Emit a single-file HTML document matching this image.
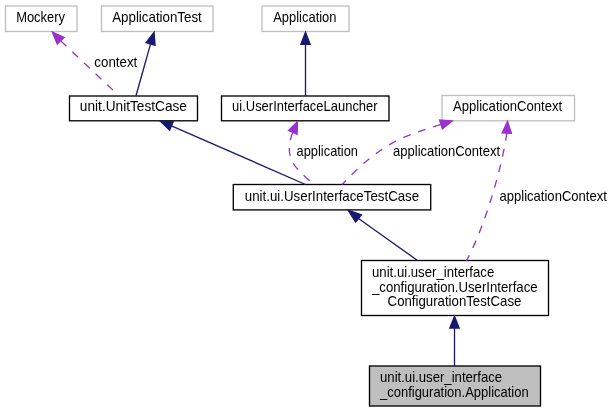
<!DOCTYPE html>
<html><head><meta charset="utf-8">
<style>
html,body{margin:0;padding:0;background:#fff;width:613px;height:412px;overflow:hidden}
svg{display:block;will-change:transform}
text{font-family:"Liberation Sans",sans-serif;font-size:14.5px;fill:#000}
</style></head><body>
<svg width="613" height="412" viewBox="0 0 613 412">
<rect x="5.5" y="6" width="71.5" height="25.5" fill="#fff" stroke="#bfbfbf" stroke-width="1.33"/>
<rect x="101.5" y="6" width="111.5" height="25.5" fill="#fff" stroke="#bfbfbf" stroke-width="1.33"/>
<rect x="262" y="6" width="87" height="25.5" fill="#fff" stroke="#bfbfbf" stroke-width="1.33"/>
<rect x="442" y="95.5" width="132.5" height="25.299999999999997" fill="#fff" stroke="#bfbfbf" stroke-width="1.33"/>
<rect x="69.5" y="96" width="128.0" height="24.799999999999997" fill="#fff" stroke="#000" stroke-width="1.33"/>
<rect x="221.5" y="96" width="167.5" height="24.799999999999997" fill="#fff" stroke="#000" stroke-width="1.33"/>
<rect x="233.3" y="184.5" width="197.39999999999998" height="25.400000000000006" fill="#fff" stroke="#000" stroke-width="1.33"/>
<rect x="361.5" y="260.5" width="187.0" height="55.0" fill="#fff" stroke="#000" stroke-width="1.33"/>
<rect x="369.5" y="366" width="171.0" height="40" fill="#bfbfbf" stroke="#000" stroke-width="1.33"/>
<text x="40.6" y="22" text-anchor="middle" textLength="48.95" lengthAdjust="spacingAndGlyphs">Mockery</text>
<text x="157" y="22" text-anchor="middle" textLength="89.66" lengthAdjust="spacingAndGlyphs">ApplicationTest</text>
<text x="304.85" y="21.7" text-anchor="middle" textLength="63.31" lengthAdjust="spacingAndGlyphs">Application</text>
<text x="507.55" y="111" text-anchor="middle" textLength="109.25" lengthAdjust="spacingAndGlyphs">ApplicationContext</text>
<text x="133.4" y="110.6" text-anchor="middle" textLength="107.06" lengthAdjust="spacingAndGlyphs">unit.UnitTestCase</text>
<text x="304.85" y="110.7" text-anchor="middle" textLength="145.54" lengthAdjust="spacingAndGlyphs">ui.UserInterfaceLauncher</text>
<text x="332" y="201" text-anchor="middle" textLength="174.31" lengthAdjust="spacingAndGlyphs">unit.ui.UserInterfaceTestCase</text>
<text x="372" y="276.7" text-anchor="start" textLength="122.25" lengthAdjust="spacingAndGlyphs">unit.ui.user_interface</text>
<text x="372" y="291.6" text-anchor="start" textLength="165.60" lengthAdjust="spacingAndGlyphs">_configuration.UserInterface</text>
<text x="454.5" y="306" text-anchor="middle" textLength="133.83" lengthAdjust="spacingAndGlyphs">ConfigurationTestCase</text>
<text x="380" y="382.2" text-anchor="start" textLength="122.12" lengthAdjust="spacingAndGlyphs">unit.ui.user_interface</text>
<text x="380" y="397.3" text-anchor="start" textLength="148.67" lengthAdjust="spacingAndGlyphs">_configuration.Application</text>
<text x="94.35" y="66.8" text-anchor="start" textLength="42.98" lengthAdjust="spacingAndGlyphs">context</text>
<text x="296.6" y="156" text-anchor="start" textLength="61.37" lengthAdjust="spacingAndGlyphs">application</text>
<text x="393.1" y="156" text-anchor="start" textLength="106.93" lengthAdjust="spacingAndGlyphs">applicationContext</text>
<text x="499.5" y="201" text-anchor="start" textLength="107.37" lengthAdjust="spacingAndGlyphs">applicationContext</text>
<path d="M60.64,40.77 L119.3,96" fill="none" stroke="#9a32cd" stroke-width="1.33" stroke-dasharray="8,8"/>
<path d="M52.43,32.17 L57.26,43.99 L64.01,37.54 Z" fill="#9a32cd" stroke="#9a32cd" stroke-width="1.33"/>
<path d="M150.57,43.93 L135.9,96" fill="none" stroke="#191970" stroke-width="1.33"/>
<path d="M154.05,32.35 L146.10,42.58 L155.04,45.27 Z" fill="#191970" stroke="#191970" stroke-width="1.33"/>
<path d="M305.50,44.30 L305.5,96" fill="none" stroke="#191970" stroke-width="1.33"/>
<path d="M305.50,32.30 L300.83,44.30 L310.17,44.30 Z" fill="#191970" stroke="#191970" stroke-width="1.33"/>
<path d="M171.45,125.87 L305.5,184.5" fill="none" stroke="#191970" stroke-width="1.33"/>
<path d="M160.41,121.26 L169.65,130.18 L173.24,121.56 Z" fill="#191970" stroke="#191970" stroke-width="1.33"/>
<path d="M292.84,132.35 C281.2,161.3 300.7,171.4 313.3,184.5" fill="none" stroke="#9a32cd" stroke-width="1.33" stroke-dasharray="8,8"/>
<path d="M297.43,121.70 L288.55,130.50 L297.13,134.20 Z" fill="#9a32cd" stroke="#9a32cd" stroke-width="1.33"/>
<path d="M440.97,124.42 C407.4,135.4 382.7,140.6 342.2,184.5" fill="none" stroke="#9a32cd" stroke-width="1.33" stroke-dasharray="8,8"/>
<path d="M452.15,120.96 L439.59,119.96 L442.36,128.88 Z" fill="#9a32cd" stroke="#9a32cd" stroke-width="1.33"/>
<path d="M358.53,218.48 L417.5,260.5" fill="none" stroke="#191970" stroke-width="1.33"/>
<path d="M348.24,210.34 L355.63,222.14 L361.43,214.81 Z" fill="#191970" stroke="#191970" stroke-width="1.33"/>
<path d="M506.79,133.10 C503.1,161.4 486.8,222.8 466.4,260.8" fill="none" stroke="#9a32cd" stroke-width="1.33" stroke-dasharray="8,8"/>
<path d="M507.52,121.40 L502.13,132.81 L511.45,133.39 Z" fill="#9a32cd" stroke="#9a32cd" stroke-width="1.33"/>
<path d="M454.50,328.00 L454.5,366" fill="none" stroke="#191970" stroke-width="1.33"/>
<path d="M454.50,316.20 L449.83,328.00 L459.17,328.00 Z" fill="#191970" stroke="#191970" stroke-width="1.33"/>
</svg>
</body></html>
